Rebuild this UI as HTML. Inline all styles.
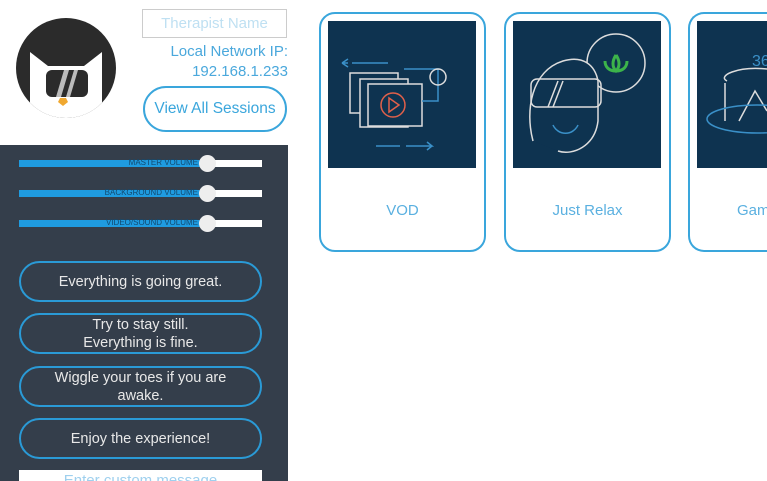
<!DOCTYPE html><html style="overflow:hidden"><head><style>
html,body{margin:0;width:767px;height:481px;overflow:hidden}
body{background:#fff;font-family:"Liberation Sans",sans-serif;position:relative}
.a{position:absolute}
.panel{left:0;top:145px;width:288px;height:336px;background:#343e4b}
.tr{left:19px;width:243px;height:7px;background:#fff}
.tr .f{position:absolute;left:0;top:0;height:7px;width:189px;background:#1f9be0}
.tr .k{position:absolute;left:180px;top:-5px;width:17px;height:17px;border-radius:50%;background:#eee}
.tr span{position:absolute;left:0;width:189px;top:-2px;text-align:right;padding-right:10px;box-sizing:border-box;font-size:8px;color:#134a70;line-height:10px}
.btn{left:19px;width:243px;height:41px;border:2px solid #2a9ad6;border-radius:22px;box-sizing:border-box;color:#e8e8e8;font-size:14.5px;text-align:center;display:flex;align-items:center;justify-content:center;line-height:18px}
.card{width:167px;height:240px;top:12px;border:2px solid #3aa6dc;border-radius:16px;box-sizing:border-box}
.img{top:21px;width:148px;height:147px;background:#0e3350;overflow:hidden}
.lbl{top:202px;font-size:15px;color:#5ab0e0;text-align:center}
</style></head><body>
<div class="a" style="left:16px;top:18px;width:100px;height:100px;border-radius:50%;background:#2b2b2b;overflow:hidden">
<svg width="100" height="100"><path d="M14 100 L14 34 L32 48 L68 48 L86 34 L86 100Z" fill="#fff"/><rect x="30" y="52" width="42" height="27" rx="6" fill="#2b2b2b"/><path d="M40 79 L48 52 L53 52 L45 79Z M50 79 L58 52 L62 52 L54 79Z" fill="#bbb"/><path d="M44 80 L50 80 L52 84 L47 88 L42 84Z" fill="#f0a830"/></svg></div>
<div class="a" style="left:142px;top:9px;width:145px;height:29px;border:1px solid #ccc;box-sizing:border-box;font-size:15px;color:#bfe0f2;text-align:center;line-height:27px">Therapist Name</div>
<div class="a" style="left:140px;top:42px;width:148px;text-align:right;font-size:15px;color:#4aa8dc;line-height:20px">Local Network IP:<br>192.168.1.233</div>
<div class="a" style="left:143px;top:86px;width:144px;height:46px;border:2px solid #3aa6dc;border-radius:24px;box-sizing:border-box;font-size:15.5px;color:#3aa6dc;text-align:center;line-height:42px">View All Sessions</div>
<div class="a panel"></div>
<div class="a tr" style="top:160px"><div class="f"></div><span>MASTER VOLUME</span><div class="k"></div></div>
<div class="a tr" style="top:190px"><div class="f"></div><span>BACKGROUND VOLUME</span><div class="k"></div></div>
<div class="a tr" style="top:220px"><div class="f"></div><span>VIDEO/SOUND VOLUME</span><div class="k"></div></div>
<div class="a btn" style="top:261px">Everything is going great.</div>
<div class="a btn" style="top:313px">Try to stay still.<br>Everything is fine.</div>
<div class="a btn" style="top:366px">Wiggle your toes if you are<br>awake.</div>
<div class="a btn" style="top:418px">Enjoy the experience!</div>
<div class="a" style="left:19px;top:470px;width:243px;height:11px;overflow:hidden;background:#fff;font-size:15px;color:#9fd0ee;text-align:center;line-height:22px">Enter custom message</div>
<div class="a card" style="left:319px"></div>
<div class="a img" style="left:328px"><svg width="148" height="147" fill="none" stroke-width="1.5"><path d="M24 42 H60 M14 42 l6 -4 M14 42 l6 4 M14 42h6" stroke="#3a90c8"/><rect x="22" y="52" width="48" height="40" stroke="#ddd"/><rect x="32" y="58" width="48" height="48" fill="#0e3350" stroke="#ddd"/><rect x="40" y="63" width="54" height="42" fill="#0e3350" stroke="#ddd"/><circle cx="65" cy="84" r="12" stroke="#e0604a"/><path d="M61 77 L71 84 L61 91Z" stroke="#e0604a"/><path d="M76 48 H110 V80 H94" stroke="#3a90c8"/><circle cx="110" cy="56" r="8" stroke="#ddd"/><path d="M48 125 H72 M78 125 H104 l-5 -4 M104 125 l-5 4" stroke="#3a90c8"/></svg></div>
<div class="a lbl" style="left:319px;width:167px">VOD</div>
<div class="a card" style="left:504px"></div>
<div class="a img" style="left:513px"><svg width="148" height="147" fill="none" stroke-width="1.5"><circle cx="103" cy="42" r="29" stroke="#ddd" fill="#0e3350"/><path d="M103 34 c-4 6 -4 12 0 16 c4 -4 4 -10 0 -16 M92 40 c0 6 4 10 11 10 M114 40 c0 6 -4 10 -11 10" stroke="#3cb44a" stroke-width="3"/><path d="M20 120 C12 90 18 50 50 40 C70 34 82 44 85 60 L85 100 C82 125 60 135 45 130" stroke="#ddd" fill="#0e3350"/><rect x="18" y="58" width="70" height="28" rx="6" stroke="#ddd"/><path d="M35 86 L45 60 M40 86 L50 60" stroke="#ddd"/><path d="M40 104 C45 115 60 115 65 104" stroke="#3a90c8"/></svg></div>
<div class="a lbl" style="left:504px;width:167px">Just Relax</div>
<div class="a card" style="left:688px;width:79px;border-right:none;border-radius:16px 0 0 16px"></div>
<div class="a img" style="left:697px;width:70px"><svg width="70" height="147" fill="none" stroke-width="1.5"><text x="55" y="45" fill="#3a90c8" font-size="16" stroke="none" font-family="Liberation Sans">360</text><path d="M30 60 C20 55 40 45 70 48 M28 62 V100 M42 100 L58 70 L70 90" stroke="#ddd"/><ellipse cx="60" cy="98" rx="50" ry="14" stroke="#3a90c8"/></svg></div>
<div class="a lbl" style="left:737px;width:30px;overflow:hidden;text-align:left">Gam</div>
</body></html>
